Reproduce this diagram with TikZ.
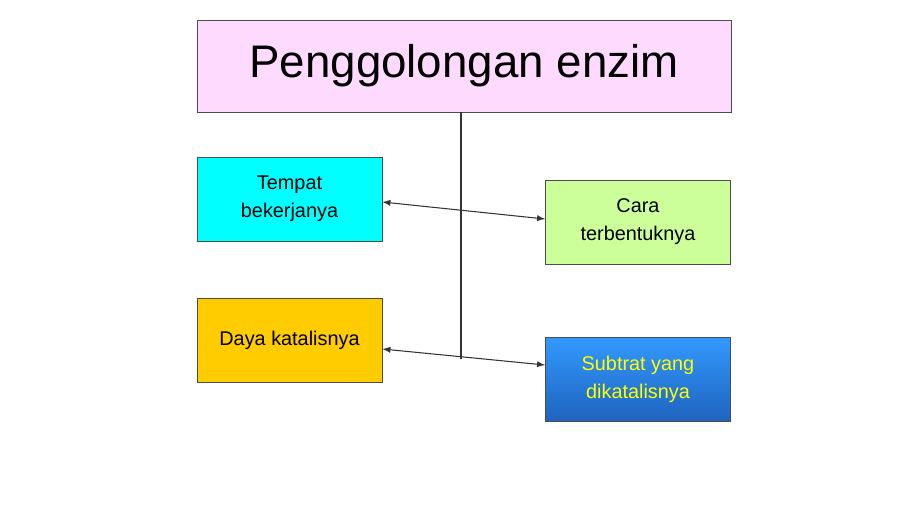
\documentclass[tikz,border=0pt]{standalone}
\usepackage{fontspec}
\setmainfont{Liberation Sans}
\usetikzlibrary{calc}
\definecolor{pinkbox}{RGB}{255,218,255}
\definecolor{cyanbox}{RGB}{0,255,255}
\definecolor{greenbox}{RGB}{204,255,153}
\definecolor{goldbox}{RGB}{255,204,0}
\definecolor{bluetop}{RGB}{51,153,255}
\definecolor{bluebot}{RGB}{30,100,190}
\definecolor{yellowtxt}{RGB}{255,255,0}
\tikzset{
  box/.style={draw=black!70,minimum width=3.7cm,minimum height=1.68cm,align=center,font=\fontsize{11.3}{16}\selectfont},
  link/.style={black!80,semithick,<->,>=latex}
}
\begin{document}
\begin{tikzpicture}
\useasboundingbox (0,0) rectangle (18,-10.12);

\node (title) at (9.28,-1.32)[draw=black!70,fill=pinkbox,minimum width=10.68cm,minimum height=1.84cm,font=\fontsize{26}{30}\selectfont]{Penggolongan enzim};

\node (tempat) at (5.79,-3.98)[box,fill=cyanbox]{Tempat\\bekerjanya};
\node (cara) at (12.76,-4.44)[box,fill=greenbox]{Cara\\terbentuknya};
\node (daya) at (5.79,-6.8)[box,fill=goldbox]{Daya katalisnya};
\node (subtrat) at (12.76,-7.58)[box,top color=bluetop,bottom color=bluebot,text=yellowtxt]{Subtrat yang\\dikatalisnya};

\coordinate (stem) at (9.22,-7.18);
\draw[black!80,semithick] (title.south -| stem) -- (stem);

\draw[link] ($(tempat.east)+(0,-0.06)$) -- ($(cara.west)+(0,0.06)$);
\draw[link] ($(daya.east)+(0,-0.18)$) -- ($(subtrat.west)+(0,0.28)$);
\end{tikzpicture}
\end{document}
